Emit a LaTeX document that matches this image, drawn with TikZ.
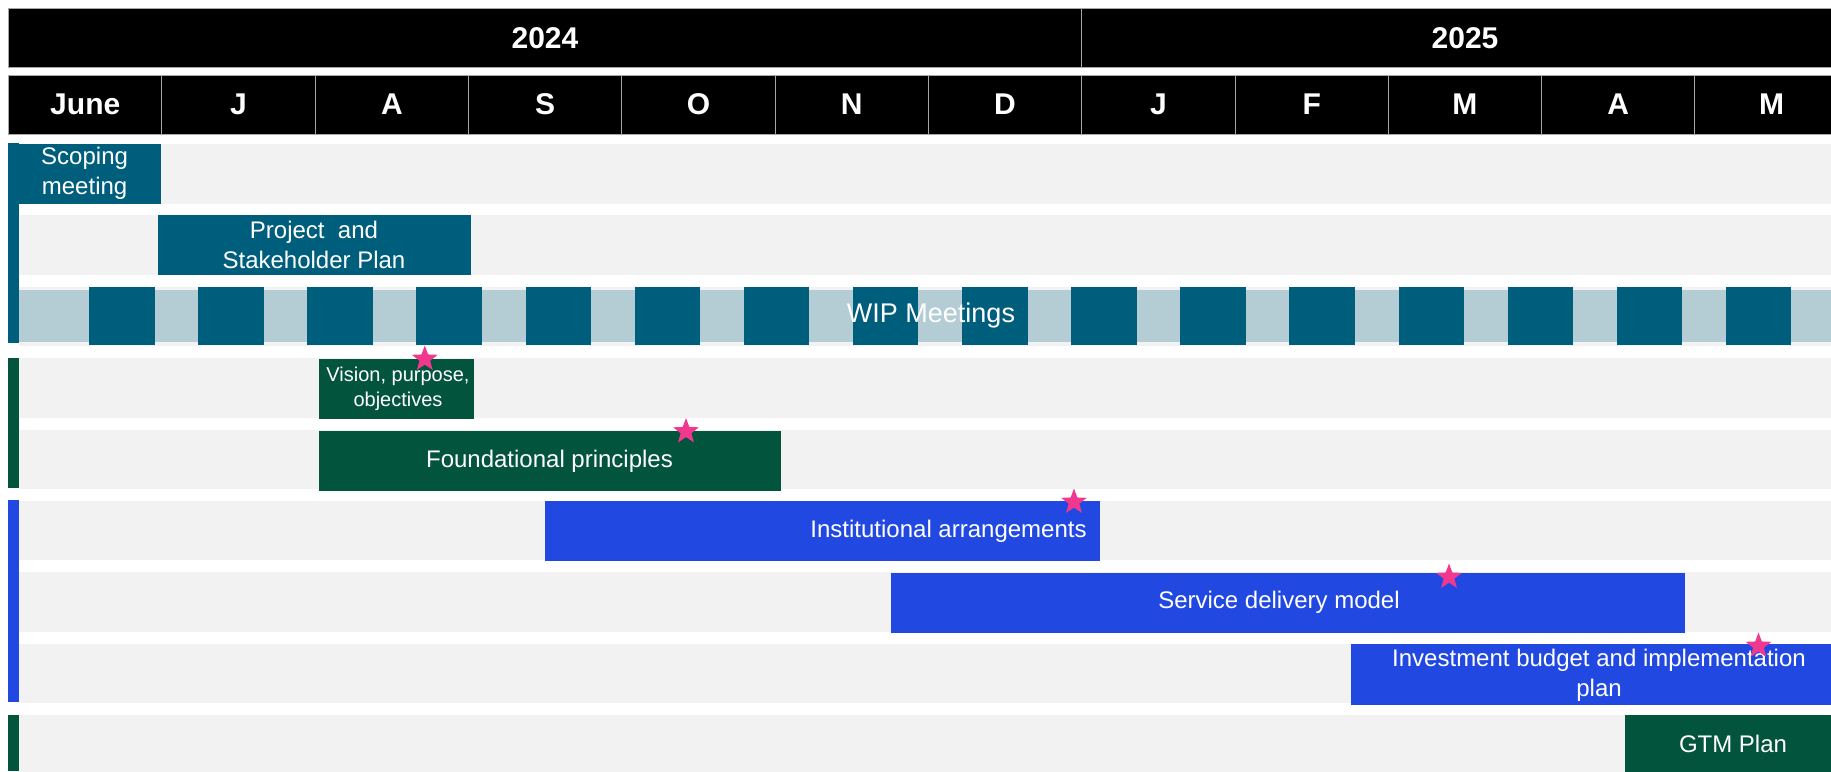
\documentclass[tikz,border=0pt]{standalone}
\usepackage{fontspec}
\setmainfont{Liberation Sans}
\usepackage{tikz}
\usetikzlibrary{shapes.geometric}
\definecolor{hdrline}{HTML}{A6A6A6}
\definecolor{rowc}{HTML}{F2F2F2}
\definecolor{tealc}{HTML}{005E7D}
\definecolor{wipc}{HTML}{B4CCD4}
\definecolor{greenc}{HTML}{03543C}
\definecolor{bluec}{HTML}{2149E2}
\definecolor{starc}{HTML}{F0388F}
\tikzset{
  hcell/.style={fill=black, draw=hdrline, line width=0.5pt},
  htxt/.style={text=white, font=\fontsize{15}{18}\selectfont\bfseries, inner sep=0pt},
  lbl/.style={text=white, align=center, font=\fontsize{12}{15}\selectfont, inner sep=0pt},
  slbl/.style={lbl, font=\fontsize{10}{12.5}\selectfont},
  mstar/.style={star, star points=5, star point ratio=2.4, fill=starc,
                minimum size=13.5pt, inner sep=0pt},
}
\begin{document}
\begin{tikzpicture}[x=0.5pt, y=-0.5pt]
  \useasboundingbox (0,0) rectangle (1831,771);
  \clip (0,0) rectangle (1831,771);
  % header
  \draw[hcell] (8.6,8) rectangle (1081.7,67);
  \draw[hcell] (1081.7,8) rectangle (1860,67);
  \node[htxt] (y2024) at (545,38) {2024};
  \node[htxt] (y2025) at (1465,38) {2025};
  \foreach \m [count=\i from 0] in {June,J,A,S,O,N,D,J,F,M,A,M} {
    \draw[hcell] ({8.6+\i*153.3},75) rectangle ({8.6+(\i+1)*153.3},134);
    \node[htxt] (m\i) at ({8.6+(\i+0.5)*153.3},104.5) {\m};
  }
  % rows
  \foreach \r in {0,...,8}
    \fill[rowc] (18.7,{144+\r*71.375}) rectangle (1831,{203.5+\r*71.375});
  \fill[tealc] (7.8,143) rectangle (18.7,343);
  \fill[greenc] (7.8,357.7) rectangle (18.7,488);
  \fill[bluec] (7.8,500) rectangle (18.7,701.7);
  \fill[greenc] (7.8,715) rectangle (18.7,771);
  % WIP meetings
  \fill[wipc] (18.7,290) rectangle (1831,342);
  \foreach \k in {0,...,15}
    \fill[tealc] ({89+\k*109.13},287) rectangle ({154.5+\k*109.13},345);
  \node[lbl, font=\fontsize{13.5}{16}\selectfont] (wip) at (931,316) {WIP Meetings};
  % bars
  \fill[tealc] (7.8,144) rectangle (161.4,203.5);
  \node[lbl] (scoping) at (84.6,173) {Scoping\\meeting};
  \fill[tealc] (157.6,214.5) rectangle (470.7,275);
  \node[lbl] (project) at (314,244.5) {Project~ and\\Stakeholder Plan};
  \fill[greenc] (319,359) rectangle (473.5,419);
  \node[slbl] (vision) at (398,389) {Vision, purpose,\\objectives};
  \fill[greenc] (319,430.5) rectangle (781,491);
  \node[lbl] (found) at (549.5,461) {Foundational principles};
  \fill[bluec] (545.4,501) rectangle (1100,561);
  \node[lbl, anchor=east] (inst) at (1087,531) {Institutional arrangements};
  \fill[bluec] (890.6,572.5) rectangle (1685,633);
  \node[lbl] (service) at (1279,602) {Service delivery model};
  \fill[bluec] (1351.4,644) rectangle (1860,704.5);
  \node[lbl] (invest) at (1599,675) {Investment budget and implementation\\plan};
  \fill[greenc] (1625,715) rectangle (1860,775);
  \node[lbl] (gtm) at (1733,744) {GTM Plan};
  % milestones
  \node[mstar] (s1) at (424.8,359) {};
  \node[mstar] (s2) at (686,431.5) {};
  \node[mstar] (s3) at (1074,502) {};
  \node[mstar] (s4) at (1449,577) {};
  \node[mstar] (s5) at (1758.5,646) {};
\end{tikzpicture}
\end{document}
